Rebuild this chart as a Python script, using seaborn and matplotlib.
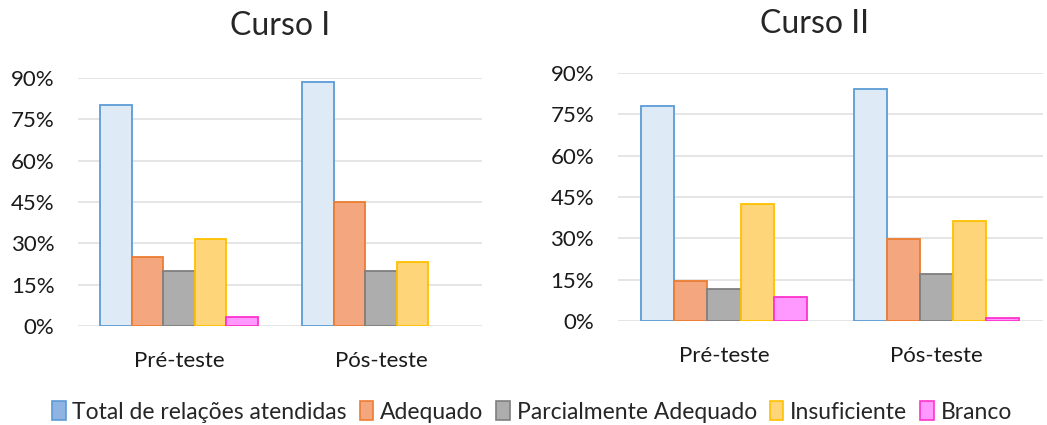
import pandas as pd
import matplotlib.pyplot as plt
import seaborn as sns
from matplotlib.patches import Patch
from matplotlib.ticker import FuncFormatter

# Dados (%)
fases = ['Pré-teste', 'Pós-teste']
categorias = ['Total de relações atendidas', 'Adequado', 'Parcialmente Adequado', 'Insuficiente', 'Branco']
curso1_pre = [80.0, 25.0, 20.0, 31.5, 3.4]
curso1_pos = [88.3, 45.0, 20.0, 23.3, 0.0]
curso2_pre = [78.1, 14.5, 11.7, 42.5, 8.8]
curso2_pos = [84.4, 29.8, 17.2, 36.2, 0.9]

cores_fundo = ['#DEEBF7', '#F4A67E', '#ADADAD', '#FFD579', '#FF99FF']
cores_borda = ['#5B9BD5', '#ED7D31', '#7F7F7F', '#FFC000', '#FF33CC']
cores_legenda = ['#8FB4E3', '#F4A67E', '#ADADAD', '#FFD579', '#FF99FF']


def montar_df(pre, pos):
    linhas = []
    for fase, valores in zip(fases, [pre, pos]):
        for cat, v in zip(categorias, valores):
            linhas.append({'fase': fase, 'categoria': cat, 'valor': v})
    return pd.DataFrame(linhas)


def plot_curso(ax, df):
    sns.barplot(data=df, x='fase', y='valor', hue='categoria', hue_order=categorias,
                palette=cores_fundo, width=0.78, ax=ax, legend=False, saturation=1)
    for cont, borda in zip(ax.containers, cores_borda):
        for barra in cont:
            barra.set_edgecolor(borda)
            barra.set_linewidth(1.3 if barra.get_height() > 0 else 0)
    ax.set_ylim(0, 90)
    ax.set_xlim(-0.5, 1.5)
    ax.set_yticks(range(0, 91, 15))
    ax.yaxis.set_major_formatter(FuncFormatter(lambda v, p: f'{v:.0f}%'))
    ax.grid(axis='y', color='#E0E0E0', linewidth=1.2)
    ax.set_axisbelow(True)
    for s in ax.spines.values():
        s.set_visible(False)
    ax.tick_params(axis='both', length=0, labelsize=16, labelcolor='#1a1a1a')
    ax.tick_params(axis='y', pad=17)
    ax.tick_params(axis='x', pad=18)
    ax.set_xlabel('')
    ax.set_ylabel('')


sns.set_style('white')
plt.rcParams['font.family'] = ['Lato', 'DejaVu Sans']

fig = plt.figure(figsize=(10.47, 4.25), dpi=100)
ax1 = fig.add_axes([0.0745, 0.233, 0.386, 0.584])
ax2 = fig.add_axes([0.590, 0.245, 0.406, 0.583])

plot_curso(ax1, montar_df(curso1_pre, curso1_pos))
plot_curso(ax2, montar_df(curso2_pre, curso2_pos))

fig.text(280 / 1047, 1 - 26 / 425, 'Curso I', ha='center', va='center', fontsize=23)
fig.text(815 / 1047, 1 - 24 / 425, 'Curso II', ha='center', va='center', fontsize=23)

handles = [Patch(facecolor=f, edgecolor=b, linewidth=1.2) for f, b in zip(cores_legenda, cores_borda)]
fig.legend(handles, categorias, loc='center', bbox_to_anchor=(0.508, 1 - 412 / 425), ncol=5,
           frameon=False, fontsize=16.5, handlelength=0.6, handleheight=0.9,
           handletextpad=0.3, columnspacing=0.55)

fig.savefig('out.png', dpi=100)
